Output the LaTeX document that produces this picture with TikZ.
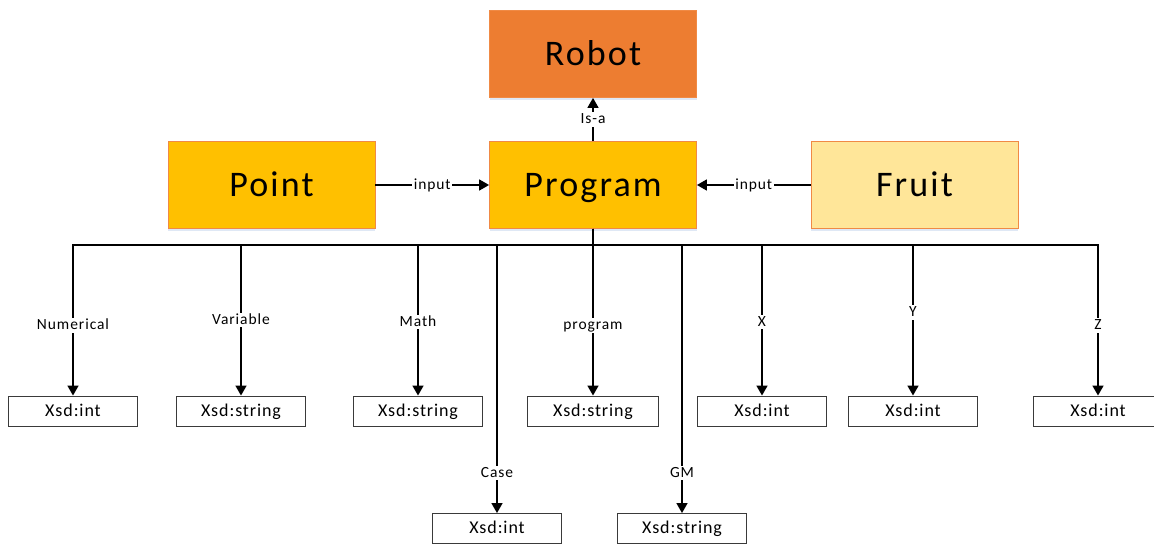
\documentclass[tikz,border=0pt]{standalone}
\usepackage{fontspec}
\setmainfont{Carlito}
\newfontfamily\bigface[LetterSpace=6]{Carlito}
\newfontfamily\typeface[LetterSpace=5]{Carlito}
\newfontfamily\labelface[LetterSpace=6]{Carlito}
\usetikzlibrary{arrows.meta,shadows}
\definecolor{robotfill}{HTML}{ED7D31}
\definecolor{progfill}{HTML}{FFC000}
\definecolor{fruitfill}{HTML}{FFE699}
\definecolor{edgeorange}{HTML}{F08A45}
\definecolor{softshadow}{HTML}{C9D9EE}
\definecolor{boxline}{HTML}{3A3A3A}
\begin{document}
\begin{tikzpicture}[x=1pt,y=-1pt,
  classbox/.style={draw=edgeorange, line width=0.8pt, minimum width=207pt,
    minimum height=87pt, inner sep=0pt, text height=23.2pt, text depth=0pt,
    font=\bigface\fontsize{36}{42}\selectfont,
    drop shadow={shadow xshift=0pt, shadow yshift=-3pt, fill=softshadow, opacity=0.6}},
  typebox/.style={draw=boxline, line width=0.9pt, fill=white, minimum width=129pt,
    minimum height=30pt, inner sep=0pt, text height=11.6pt, text depth=1pt,
    font=\typeface\fontsize{18}{22}\selectfont},
  conn/.style={draw=black, line width=1.6pt,
    -{Triangle[width=11pt,length=10pt]}},
  lbl/.style={fill=white, inner sep=1.5pt, text height=10pt, text depth=1.5pt,
    font=\labelface\fontsize{15.5}{18}\selectfont}]
\useasboundingbox (0,0) rectangle (1154,545);

% class nodes
\node[classbox, fill=robotfill] (robot) at (593,54) {Robot};
\node[classbox, fill=progfill] (prog) at (593,185) {Program};
\node[classbox, fill=progfill] (point) at (271.5,185) {Point};
\node[classbox, fill=fruitfill] (fruit) at (914.5,185) {Fruit};

% datatype nodes, upper row
\node[typebox] (b1) at (73,411) {Xsd:int};
\node[typebox] (b2) at (241,411) {Xsd:string};
\node[typebox] (b3) at (418,411) {Xsd:string};
\node[typebox, minimum width=131pt] (b4) at (593,411) {Xsd:string};
\node[typebox] (b5) at (762,411) {Xsd:int};
\node[typebox] (b6) at (913,411) {Xsd:int};
\node[typebox] (b7) at (1098,411) {Xsd:int};
% datatype nodes, lower row
\node[typebox] (b8) at (497,528.5) {Xsd:int};
\node[typebox] (b9) at (682,528.5) {Xsd:string};

% horizontal bus under Program
\coordinate (bus) at (593,245);

% relations between classes
\draw[conn] (prog.north) -- node[lbl]{Is-a} (robot.south);
\draw[conn] (point.east) -- node[lbl]{input} (prog.west);
\draw[conn] (fruit.west) -- node[lbl]{input} (prog.east);

% properties of Program
\draw[conn] (prog.south) |- (bus -| b1.north) -- node[lbl,pos=.536]{Numerical} (b1.north);
\draw[conn] (prog.south) |- (bus -| b2.north) -- node[lbl,pos=.497]{Variable} (b2.north);
\draw[conn] (prog.south) |- (bus -| b3.north) -- node[lbl,pos=.51]{Math} (b3.north);
\draw[conn] (prog.south) -- node[lbl,pos=.58]{program} (b4.north);
\draw[conn] (prog.south) |- (bus -| b5.north) -- node[lbl,pos=.51]{X} (b5.north);
\draw[conn] (prog.south) |- (bus -| b6.north) -- node[lbl,pos=.45]{Y} (b6.north);
\draw[conn] (prog.south) |- (bus -| b7.north) -- node[lbl,pos=.536]{Z} (b7.north);
\draw[conn] (prog.south) |- (bus -| b8.north) -- node[lbl,pos=.85]{Case} (b8.north);
\draw[conn] (prog.south) |- (bus -| b9.north) -- node[lbl,pos=.85]{GM} (b9.north);
\end{tikzpicture}
\end{document}
